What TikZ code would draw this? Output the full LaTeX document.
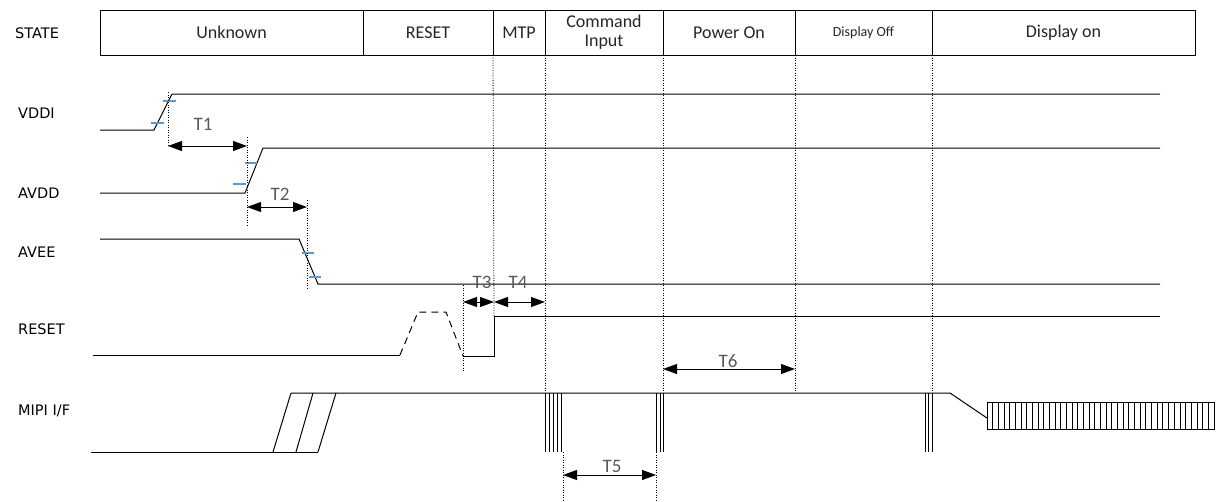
\documentclass[tikz,border=0pt]{standalone}
\usepackage{fontspec}
\setmainfont{Carlito}
\newfontfamily\rowfont{DejaVu Sans}
\usetikzlibrary{arrows.meta,positioning,calc}

\definecolor{tickblue}{HTML}{5B9BD5}
\definecolor{labelgray}{HTML}{595959}

\tikzset{
  sig/.style={line width=1pt},
  guide/.style={line width=0.8pt, dash pattern=on 1pt off 1.5pt},
  span/.style={{Triangle[length=14pt,width=10pt]}-{Triangle[length=14pt,width=10pt]}, line width=1pt},
  lvl/.style={tickblue, line width=1.2pt},
  cell/.style={draw, line width=0.8pt, minimum height=45pt, inner sep=0pt, outer sep=0pt,
    align=center, font=\fontsize{18}{20}\selectfont, text=black!85},
  rowlabel/.style={anchor=west, inner sep=0pt, font=\rowfont\fontsize{14.5}{14.5}\selectfont},
  tlabel/.style={inner sep=0pt, text=labelgray, font=\fontsize{19}{19}\selectfont},
}

\begin{document}
\begin{tikzpicture}[x=1pt, y=-1pt]
    \useasboundingbox (0,0) rectangle (1219,501);

    % State bar
    \node[cell, minimum width=263pt, anchor=west] (unknown) at (100,32.5) {Unknown};
    \node[cell, minimum width=130pt, right=0pt of unknown] (reset) {RESET};
    \node[cell, minimum width=52pt, right=0pt of reset] (mtp) {MTP};
    \node[cell, minimum width=118pt, right=0pt of mtp] (cmd) {Command\\[-1pt]Input};
    \node[cell, minimum width=132pt, right=0pt of cmd] (pwron) {Power On};
    \node[cell, minimum width=137pt, right=0pt of pwron, font=\fontsize{14}{14}\selectfont] (dispoff) {Display Off};
    \node[cell, minimum width=263pt, right=0pt of dispoff] (dispon) {Display on};

    % Row labels
    \node[rowlabel] (lstate) at (15,33) {STATE};
    \node[rowlabel] (lvddi) at (18,113) {VDDI};
    \node[rowlabel] (lavdd) at (18,193) {AVDD};
    \node[rowlabel] (lavee) at (18,252) {AVEE};
    \node[rowlabel] (lreset) at (18,329) {RESET};
    \node[rowlabel] (lmipi) at (18,411) {MIPI I/F};

    % VDDI
    \draw[sig] (100,130) -- (154,130) -- (172,94) -- (1160,94);
    \draw[lvl] (151,123) -- (164,123) (163,101) -- (176,101);

    % AVDD
    \draw[sig] (100,193) -- (245,193) -- (263,148) -- (1160,148);
    \draw[lvl] (233,184) -- (246,184) (245,163) -- (257,163);

    % AVEE
    \draw[sig] (100,239) -- (299,239) -- (318,284) -- (1160,284);
    \draw[lvl] (302,253) -- (314,253) (309,277) -- (321,277);

    % RESET
    \draw[sig] (93,355) -- (400,355);
    \draw[sig, dash pattern=on 7pt off 5pt] (400,355) -- (418,312) -- (446,312) -- (463,356);
    \draw[sig] (463,356) -- (494,356) -- (494,316) coordinate (rstup) -- (1160,316);

    % MIPI I/F
    \draw[sig] (91,452) -- (318,452);
    \draw[sig] (273,452) -- (291,393) (296,452) -- (313,393) (318,452) -- (336,393);
    \draw[sig] (291,393) -- (950,393) -- (987,418);
    \draw[sig] (987,402) rectangle (1214,429);
    \foreach \k in {1,...,39}
        \draw[line width=0.9pt] ({987+\k*5.675},402) -- ++(0,27);
    \foreach \x in {545,549,553,557,561,656,660,663,925,928,932}
        \draw[line width=0.8pt] (\x,393) -- (\x,452);

    % Guides from the state bar
    \draw[guide] (mtp.south west) -- (rstup);
    \foreach \n in {cmd,pwron,dispoff,dispon}
        \draw[guide] (\n.south west) -- (\n.south west |- 0,392);

    % T1, T2
    \coordinate (t1a) at (168,146);
    \coordinate (t1b) at (247,146);
    \coordinate (t2b) at (307,207);
    \draw[guide] (168,92) -- (t1a);
    \draw[guide] (247,137) -- (247,225);
    \draw[guide] (307,200) -- (307,290);
    \draw[span] (t1a) -- (t1b);
    \draw[span] (t1b |- t2b) -- (t2b);
    \node[tlabel] (t1) at (203,124) {T1};
    \node[tlabel] (t2) at (280,194) {T2};

    % T3, T4
    \coordinate (t3a) at (463,302);
    \coordinate (t3b) at (494,302);
    \coordinate (t4b) at (545,302);
    \draw[guide] (463,285) -- (463,372);
    \draw[span] (t3a) -- (t3b);
    \draw[span] (t3b) -- (t4b);
    \node[tlabel] (t3) at (482,282) {T3};
    \node[tlabel] (t4) at (518,282) {T4};

    % T5
    \coordinate (t5a) at (563,475);
    \coordinate (t5b) at (656,475);
    \draw[guide] (563,452) -- (563,500);
    \draw[guide] (656,452) -- (656,500);
    \draw[span] (t5a) -- (t5b);
    \node[tlabel] (t5) at (612,466) {T5};

    % T6
    \coordinate (t6a) at (663,369);
    \coordinate (t6b) at (795,369);
    \draw[span] (t6a) -- (t6b);
    \node[tlabel] (t6) at (728,361) {T6};
\end{tikzpicture}
\end{document}
